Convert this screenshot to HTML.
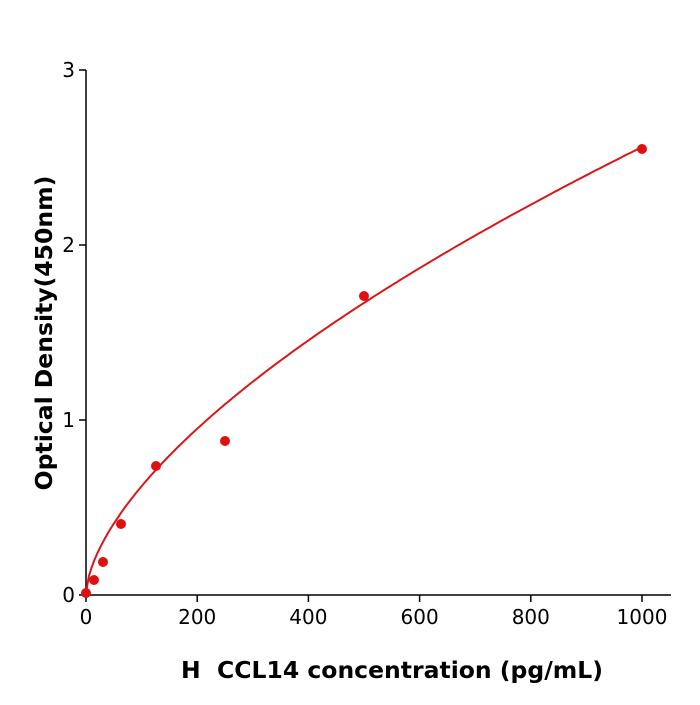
<!DOCTYPE html>
<html><head><style>body{margin:0;background:#fff}</style></head><body>
<svg id="s" width="700" height="700" xmlns="http://www.w3.org/2000/svg" font-family="DejaVu Sans, Liberation Sans, sans-serif">
<rect width="700" height="700" fill="#fff"/>
<g stroke="#000" stroke-width="1.5" fill="none">
<line x1="86" y1="70" x2="86" y2="596"/>
<line x1="85" y1="595" x2="671" y2="595"/>
<line x1="79" y1="595" x2="86" y2="595"/>
<line x1="79" y1="420" x2="86" y2="420"/>
<line x1="79" y1="245" x2="86" y2="245"/>
<line x1="79" y1="70" x2="86" y2="70"/>
<line x1="86" y1="595" x2="86" y2="602"/>
<line x1="197.2" y1="595" x2="197.2" y2="602"/>
<line x1="308.4" y1="595" x2="308.4" y2="602"/>
<line x1="419.6" y1="595" x2="419.6" y2="602"/>
<line x1="530.8" y1="595" x2="530.8" y2="602"/>
<line x1="642" y1="595" x2="642" y2="602"/>
</g>
<g font-size="20" fill="#000" text-anchor="end">
<text x="75" y="602">0</text><text x="75" y="427">1</text><text x="75" y="252">2</text><text x="75" y="77">3</text>
</g>
<g font-size="20" fill="#000" text-anchor="middle">
<text x="86" y="624">0</text><text x="197.2" y="624">200</text><text x="308.4" y="624">400</text><text x="419.6" y="624">600</text><text x="530.8" y="624">800</text><text x="642" y="624">1000</text>
</g>
<text x="392" y="678" font-size="23.5" font-weight="bold" text-anchor="middle">H&#160; CCL14 concentration (pg/mL)</text>
<text transform="translate(52,333) rotate(-90)" font-size="23.5" font-weight="bold" text-anchor="middle">Optical Density(450nm)</text>
<path id="c" fill="none" stroke="#d81818" stroke-width="2"/>
<g fill="#e01010">
<circle cx="86" cy="593" r="5"/><circle cx="94" cy="580" r="5"/><circle cx="103" cy="562" r="5"/><circle cx="121" cy="524" r="5"/><circle cx="156" cy="466" r="5"/><circle cx="225" cy="441" r="5"/><circle cx="364" cy="296" r="5"/><circle cx="642" cy="149" r="5"/>
</g>
</svg>
<script>
var d="";for(var i=0;i<=200;i++){var x=i*5;var y=0.0352*Math.pow(x,0.62)+0.01;var px=86+x*0.556,py=595-y*175;d+=(i?"L":"M")+px.toFixed(1)+","+py.toFixed(1);}
document.getElementById("c").setAttribute("d",d);
</script>
</body></html>
